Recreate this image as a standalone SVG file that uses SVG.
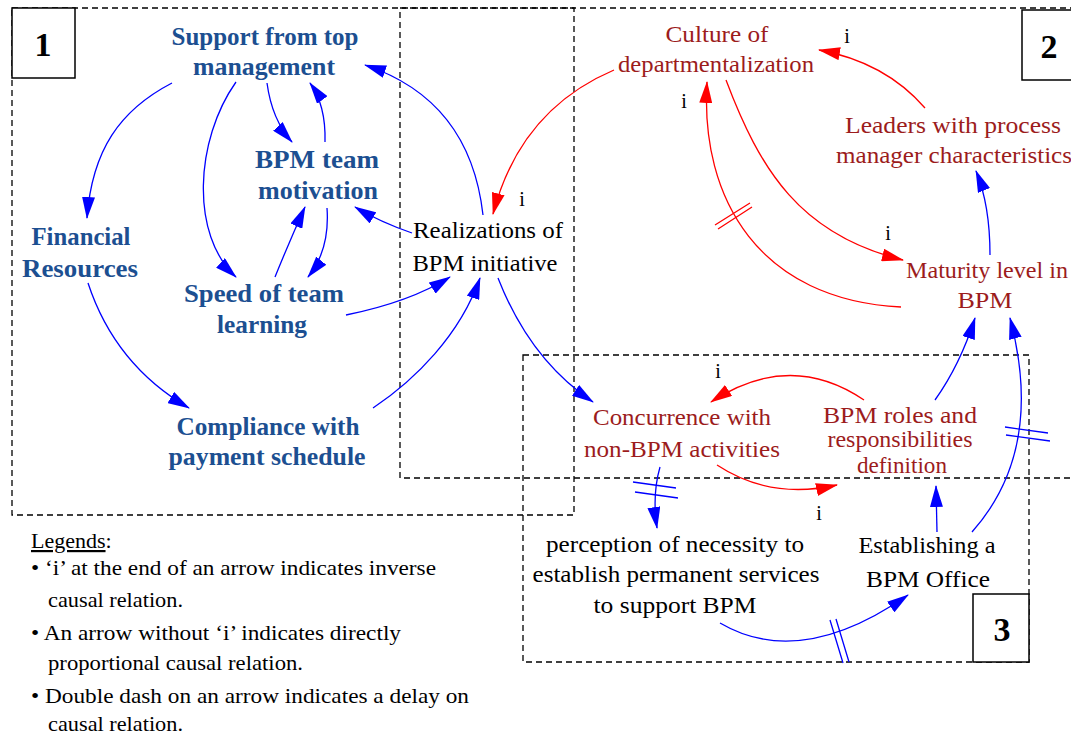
<svg xmlns="http://www.w3.org/2000/svg" width="1071" height="735" viewBox="0 0 1071 735">
  <style>
    text { font-family: "Liberation Serif", Tinos, "Times New Roman", "DejaVu Serif", serif; text-anchor: middle; }
    .frame { fill: none; stroke: #000; stroke-width: 1.3; stroke-dasharray: 6 4; }
    .tag { fill: #fff; stroke: #000; stroke-width: 1.5; }
    .tagtxt { font-weight: bold; font-size: 34px; fill: #000; }
    .blue { font-weight: bold; font-size: 25px; fill: #1c4f91; }
    .red { font-size: 24px; fill: #9c1c1c; }
    .blk { font-size: 24px; fill: #000; }
    .inv { font-size: 20px; fill: #000; }
    .leg { font-size: 22px; fill: #000; text-anchor: start; }
    .bl { fill: none; stroke: #0000ff; stroke-width: 1.3; marker-end: url(#ab); }
    .rd { fill: none; stroke: #ff0000; stroke-width: 1.3; marker-end: url(#ar); }
    .dashb { stroke: #0000ff; stroke-width: 1.3; fill: none; }
    .dashr { stroke: #ff0000; stroke-width: 1.3; fill: none; }
  </style>
  <defs>
    <marker id="ab" viewBox="0 0 22 13" refX="21" refY="6.5" markerWidth="22" markerHeight="13" markerUnits="userSpaceOnUse" orient="auto">
      <path d="M0,0 L22,6.5 L0,13 Z" fill="#0000ff"/>
    </marker>
    <marker id="ar" viewBox="0 0 22 13" refX="21" refY="6.5" markerWidth="22" markerHeight="13" markerUnits="userSpaceOnUse" orient="auto">
      <path d="M0,0 L22,6.5 L0,13 Z" fill="#ff0000"/>
    </marker>
  </defs>

  <rect width="1071" height="735" fill="#fff"/>

  <!-- dashed sub-system frames with their numbered tags -->
  <g id="frames">
    <rect class="frame" x="12" y="8" width="562" height="507"/>
    <rect class="frame" x="400" y="8" width="680" height="470"/>
    <rect class="frame" x="523" y="355" width="506" height="307"/>
    <rect class="tag" x="12" y="8" width="63" height="70"/>
    <text class="tagtxt" x="43" y="56">1</text>
    <rect class="tag" x="1022" y="10" width="60" height="70"/>
    <text class="tagtxt" x="1049" y="58">2</text>
    <rect class="tag" x="973" y="594" width="56" height="68"/>
    <text class="tagtxt" x="1002" y="641">3</text>
  </g>

  <!-- causal links -->
  <g id="connectors">
    <!-- blue: direct relations -->
    <path class="bl" d="M172,83 C120,110 92,150 87,218"/>
    <path class="bl" d="M236,82 C195,140 190,235 236,277"/>
    <path class="bl" d="M267,83 Q272,120 292,142"/>
    <path class="bl" d="M325,142 Q326,105 310,83"/>
    <path class="bl" d="M275,277 Q290,240 305,207"/>
    <path class="bl" d="M327,208 Q330,250 308,277"/>
    <path class="bl" d="M412,233 Q380,222 355,207"/>
    <path class="bl" d="M346,315 Q410,302 450,277"/>
    <path class="bl" d="M373,408 C415,380 460,335 480,278"/>
    <path class="bl" d="M88,283 Q115,365 189,408"/>
    <path class="bl" d="M483,215 Q470,100 365,65"/>
    <path class="bl" d="M498,278 Q530,360 593,402"/>
    <path class="bl" d="M660,467 Q652,495 657,528"/>
    <path class="bl" d="M720,623 Q800,670 908,595"/>
    <path class="bl" d="M937,532 L936,486"/>
    <path class="bl" d="M935,400 Q960,365 975,318"/>
    <path class="bl" d="M972,532 Q1045,450 1010,318"/>
    <path class="bl" d="M990,255 Q990,205 976,171"/>
    <!-- red: inverse relations -->
    <path class="rd" d="M614,70 Q520,110 493,214"/>
    <path class="rd" d="M925,108 Q885,62 819,50"/>
    <path class="rd" d="M726,80 C760,170 800,235 903,260"/>
    <path class="rd" d="M901,307 C760,300 700,200 707,82"/>
    <path class="rd" d="M864,400 Q790,350 711,402"/>
    <path class="rd" d="M717,465 Q770,500 837,485"/>
    <!-- delay marks -->
    <path class="dashr" d="M715,225 L750,203 M718,229 L752,207"/>
    <path class="dashb" d="M633,482 L676,488 M635,492 L678,498"/>
    <path class="dashb" d="M830,620 L843,663 M836,619 L849,662"/>
    <path class="dashb" d="M1005,427 L1048,433 M1006,435 L1050,441"/>
  </g>

  <!-- 'i' tags for inverse relations -->
  <g id="inverse-labels">
    <text class="inv" x="847" y="43">i</text>
    <text class="inv" x="684" y="108">i</text>
    <text class="inv" x="522" y="206">i</text>
    <text class="inv" x="888" y="240">i</text>
    <text class="inv" x="718" y="378">i</text>
    <text class="inv" x="819" y="520">i</text>
  </g>

  <g id="support"><text class="blue" x="265" y="45" textLength="187" lengthAdjust="spacingAndGlyphs">Support from top</text><text class="blue" x="264" y="75" textLength="142" lengthAdjust="spacingAndGlyphs">management</text></g>
  <g id="motivation"><text class="blue" x="317" y="168" textLength="124" lengthAdjust="spacingAndGlyphs">BPM  team</text><text class="blue" x="318" y="199" textLength="120" lengthAdjust="spacingAndGlyphs">motivation</text></g>
  <g id="financial"><text class="blue" x="81" y="245" textLength="99" lengthAdjust="spacingAndGlyphs">Financial</text><text class="blue" x="80" y="277" textLength="116" lengthAdjust="spacingAndGlyphs">Resources</text></g>
  <g id="speed"><text class="blue" x="264" y="302" textLength="160" lengthAdjust="spacingAndGlyphs">Speed of team</text><text class="blue" x="262" y="333" textLength="90" lengthAdjust="spacingAndGlyphs">learning</text></g>
  <g id="compliance"><text class="blue" x="268" y="435" textLength="183" lengthAdjust="spacingAndGlyphs">Compliance with</text><text class="blue" x="267" y="465" textLength="197" lengthAdjust="spacingAndGlyphs">payment schedule</text></g>
  <g id="realizations"><text class="blk" x="488" y="238" textLength="150" lengthAdjust="spacingAndGlyphs">Realizations of</text><text class="blk" x="485" y="271" textLength="145" lengthAdjust="spacingAndGlyphs">BPM initiative</text></g>
  <g id="culture"><text class="red" x="717" y="42" textLength="103" lengthAdjust="spacingAndGlyphs">Culture of</text><text class="red" x="716" y="72" textLength="196" lengthAdjust="spacingAndGlyphs">departmentalization</text></g>
  <g id="leaders"><text class="red" x="953" y="133" textLength="216" lengthAdjust="spacingAndGlyphs">Leaders with process</text><text class="red" x="954" y="163" textLength="236" lengthAdjust="spacingAndGlyphs">manager characteristics</text></g>
  <g id="maturity"><text class="red" x="987" y="278" textLength="162" lengthAdjust="spacingAndGlyphs">Maturity level in</text><text class="red" x="985" y="308" textLength="55" lengthAdjust="spacingAndGlyphs">BPM</text></g>
  <g id="concurrence"><text class="red" x="682" y="425" textLength="178" lengthAdjust="spacingAndGlyphs">Concurrence with</text><text class="red" x="682" y="457" textLength="196" lengthAdjust="spacingAndGlyphs">non-BPM activities</text></g>
  <g id="roles"><text class="red" x="900" y="423" textLength="154" lengthAdjust="spacingAndGlyphs">BPM roles and</text><text class="red" x="900" y="447" textLength="145" lengthAdjust="spacingAndGlyphs">responsibilities</text><text class="red" x="902" y="473" textLength="90" lengthAdjust="spacingAndGlyphs">definition</text></g>
  <g id="perception"><text class="blk" x="675" y="552" textLength="258" lengthAdjust="spacingAndGlyphs">perception of necessity to</text><text class="blk" x="676" y="582" textLength="287" lengthAdjust="spacingAndGlyphs">establish permanent services</text><text class="blk" x="675" y="613" textLength="163" lengthAdjust="spacingAndGlyphs">to support BPM</text></g>
  <g id="office"><text class="blk" x="927" y="553" textLength="137" lengthAdjust="spacingAndGlyphs">Establishing a</text><text class="blk" x="928" y="587" textLength="124" lengthAdjust="spacingAndGlyphs">BPM Office</text></g>

  <g id="legend">
    <text class="leg" x="31" y="548"><tspan text-decoration="underline">Legends</tspan>:</text>
    <text class="leg" x="31" y="575" textLength="405" lengthAdjust="spacingAndGlyphs">• ‘i’ at the end of an arrow indicates  inverse</text>
    <text class="leg" x="48" y="607" textLength="135" lengthAdjust="spacingAndGlyphs">causal relation.</text>
    <text class="leg" x="31" y="640" textLength="370" lengthAdjust="spacingAndGlyphs">• An arrow without ‘i’ indicates directly</text>
    <text class="leg" x="48" y="670" textLength="255" lengthAdjust="spacingAndGlyphs">proportional causal relation.</text>
    <text class="leg" x="31" y="703" textLength="438" lengthAdjust="spacingAndGlyphs">• Double dash on an arrow indicates a delay on</text>
    <text class="leg" x="48" y="731" textLength="135" lengthAdjust="spacingAndGlyphs">causal relation.</text>
  </g>
</svg>
